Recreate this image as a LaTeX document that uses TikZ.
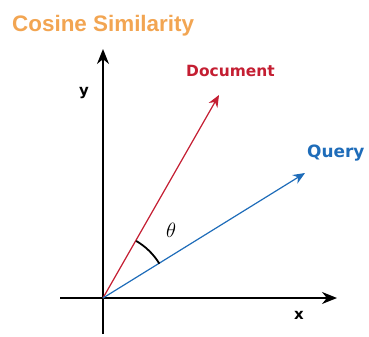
\documentclass[tikz,border=0pt]{standalone}
\usepackage[x11names, svgnames, rgb]{xcolor}
\usepackage{fontspec}
\setmainfont{Liberation Sans}
\newfontfamily\lblfont{DejaVu Sans}
\usepackage{tikz}
\usetikzlibrary{arrows.meta}

\definecolor{TitleOrange}{RGB}{242,165,82}
\definecolor{DocRed}{RGB}{196,30,50}
\definecolor{QueryBlue}{RGB}{30,108,185}

\begin{document}
\begin{tikzpicture}[x=1bp, y=-1bp, line join=bevel,
  axis/.style={draw=black, line width=1.5bp, -{Stealth[length=15bp, width=12bp]}},
  vec/.style={line width=1.2bp, -{Stealth[length=12bp, width=10bp]}},
  lbl/.style={inner sep=0pt, anchor=base west}]
\useasboundingbox (0,0) rectangle (369,337);
%%
\node (title) at (12,31)
  [lbl, text=TitleOrange, font=\bfseries\fontsize{22.5}{24}\selectfont] {Cosine Similarity};

\coordinate (origin) at (103,298);
\coordinate (y_bot) at (103,334);
\coordinate (y_top) at (103,49);
\coordinate (x_left) at (60,298);
\coordinate (x_right) at (337,298);
\coordinate (doc_tip) at (219,95);
\coordinate (query_tip) at (305,173);

\node (y_lbl) at (84,93) [inner sep=0pt, font=\lblfont\bfseries\fontsize{15}{16}\selectfont] {y};
\node (x_lbl) at (299,315) [inner sep=0pt, font=\lblfont\bfseries\fontsize{15}{16}\selectfont] {x};
\node (doc_lbl) at (186,76)
  [lbl, text=DocRed, font=\lblfont\bfseries\fontsize{15.5}{17}\selectfont] {Document};
\node (query_lbl) at (307,157)
  [lbl, text=QueryBlue, font=\lblfont\bfseries\fontsize{17}{18}\selectfont] {Query};
\node (theta) at (171,230)
  [inner sep=0pt, font=\fontsize{21}{22}\selectfont] {$\theta$};

\draw [axis] (y_bot) -- (y_top);
\draw [axis] (x_left) -- (x_right);
\draw [vec, DocRed] (origin) -- (doc_tip);
\draw [vec, QueryBlue] (origin) -- (query_tip);

\draw [line width=1.8bp]
  (origin) ++(-59.9:66) arc [start angle=-59.9, end angle=-31.3, radius=66];
\end{tikzpicture}
\end{document}
